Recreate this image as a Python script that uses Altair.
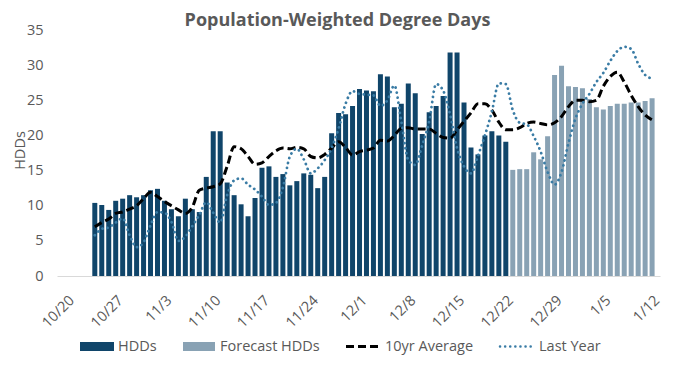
import altair as alt
import pandas as pd

# ---------------- data ----------------
start_date = "2023-10-24"

hdds = [10.4, 10.1, 9.4, 10.7, 11.0, 11.5, 11.2, 11.5, 12.2, 12.4,
        10.7, 9.5, 8.5, 11.0, 9.5, 9.1, 14.1, 20.6, 20.6, 13.3,
        11.5, 10.2, 8.5, 11.1, 15.4, 15.6, 14.1, 14.5, 12.9, 13.5,
        14.6, 14.4, 12.5, 14.1, 20.3, 23.2, 23.0, 24.2, 26.6, 26.4,
        26.3, 28.7, 28.4, 24.0, 24.5, 27.4, 26.0, 20.2, 23.3, 24.2,
        25.6, 31.8, 31.8, 24.7, 18.3, 17.3, 20.0, 20.6, 20.0, 19.1]

forecast_hdds = [15.1, 15.2, 15.2, 17.6, 16.6, 19.9, 28.6, 29.9, 27.0, 26.9,
                 26.7, 25.2, 24.0, 23.7, 24.2, 24.5, 24.5, 24.7, 24.7, 24.9,
                 25.3]

ten_year_avg = [7.0, 7.6, 8.1, 8.9, 9.1, 9.5, 10.0, 11.0, 11.9, 11.3,
                10.6, 10.0, 9.4, 8.9, 9.8, 12.2, 12.5, 12.7, 13.1, 15.6,
                18.4, 18.1, 17.0, 15.9, 16.1, 17.0, 17.8, 18.2, 18.1, 18.3,
                18.1, 17.0, 16.8, 17.3, 18.2, 19.1, 18.3, 17.2, 17.7, 17.9,
                18.2, 19.3, 19.2, 20.0, 21.0, 21.1, 20.9, 20.9, 20.9, 20.3,
                19.7, 19.6, 20.8, 22.0, 23.2, 24.5, 24.5, 23.6, 21.9, 20.8,
                20.8, 21.1, 21.7, 21.9, 21.7, 21.5, 21.8, 22.7, 24.1, 25.0,
                25.0, 24.8, 25.0, 27.0, 28.4, 29.0, 27.6, 25.7, 24.1, 22.9,
                22.2]

last_year = [5.8, 6.7, 6.9, 7.6, 8.2, 5.8, 4.1, 4.8, 7.2, 9.1,
             9.0, 7.7, 5.0, 5.6, 7.1, 8.7, 10.5, 9.0, 7.6, 11.5,
             13.6, 13.9, 13.0, 12.3, 11.3, 10.1, 10.4, 12.6, 17.0, 18.1,
             16.6, 14.6, 15.3, 16.5, 18.2, 21.0, 24.5, 26.3, 25.9, 25.8,
             25.7, 24.2, 25.0, 27.1, 22.0, 16.5, 15.8, 18.6, 22.0, 27.3,
             26.4, 23.0, 18.2, 15.6, 14.6, 17.1, 20.0, 23.4, 27.4, 27.3,
             23.6, 21.8, 21.6, 19.9, 17.7, 14.8, 13.0, 14.8, 18.9, 22.4,
             24.5, 25.9, 27.6, 28.9, 30.6, 32.0, 32.6, 32.3, 30.2, 28.6,
             28.1]

tick_dates = [(2023, 10, 20), (2023, 10, 27), (2023, 11, 3), (2023, 11, 10),
              (2023, 11, 17), (2023, 11, 24), (2023, 12, 1), (2023, 12, 8),
              (2023, 12, 15), (2023, 12, 22), (2023, 12, 29), (2024, 1, 5),
              (2024, 1, 12)]
y_ticks = [0, 5, 10, 15, 20, 25, 30, 35]

series_names = ["HDDs", "Forecast HDDs", "10yr Average", "Last Year"]
bar_colors = ["#10456A", "#89A2B4"]
ly_color = "#3A7CA5"
text_color = "#595959"
FONT = "Open Sans"

# ---------------- tables ----------------
n = len(hdds) + len(forecast_hdds)
dates = pd.date_range(start_date, periods=n, freq="D")
date_str = [d.strftime("%Y-%m-%dT00:00:00") for d in dates]

bars_df = pd.DataFrame({
    "date": date_str,
    "value": hdds + forecast_hdds,
    "series": [series_names[0]] * len(hdds) + [series_names[1]] * len(forecast_hdds),
})
ten_df = pd.DataFrame({"date": date_str, "value": ten_year_avg})
ly_df = pd.DataFrame({"date": date_str, "value": last_year})

# ---------------- encodings ----------------
x_enc = alt.X(
    "date:T",
    scale=alt.Scale(domain=[alt.DateTime(year=2023, month=10, date=19, hours=7),
                            alt.DateTime(year=2024, month=1, date=12, hours=10)]),
    axis=alt.Axis(
        values=[alt.DateTime(year=y, month=m, date=d) for (y, m, d) in tick_dates],
        format="%-m/%-d", labelAngle=-45, labelAlign="right", labelBaseline="top",
        labelPadding=17, ticks=False, grid=False, title=None,
        domainColor="#d9d9d9", domainWidth=1.2,
        labelColor=text_color, labelFontSize=14.5, labelFont=FONT,
        labelOverlap=False, labelFlush=False, labelBound=False,
    ),
)
y_enc = alt.Y(
    "value:Q",
    scale=alt.Scale(domain=[0, 35], nice=False, zero=True),
    axis=alt.Axis(
        values=y_ticks, title="HDDs", grid=False, domain=False, ticks=False,
        labelPadding=14, labelColor=text_color, labelFontSize=14.5, labelFont=FONT,
        titleColor=text_color, titleFontSize=14.5, titleFont=FONT,
        titleFontWeight="normal", titleX=-37, titleY=120, titleBaseline="middle",
        titleAngle=-90,
    ),
)

bars = alt.Chart(bars_df).mark_bar(size=5).encode(
    x=x_enc, y=y_enc,
    color=alt.Color("series:N",
                    scale=alt.Scale(domain=series_names[:2], range=bar_colors),
                    legend=None),
)
ten_line = alt.Chart(ten_df).mark_line(
    color="black", strokeWidth=3, strokeDash=[8, 4], interpolate="monotone"
).encode(x=x_enc, y=y_enc)
ly_line = alt.Chart(ly_df).mark_line(
    color=ly_color, strokeWidth=2.75, strokeDash=[0.1, 5], strokeCap="round",
    interpolate="monotone"
).encode(x=x_enc, y=y_enc)

# ---------------- manual legend ----------------
one = pd.DataFrame({"k": [0]})
LY = 316.5
legend_layers = [
    alt.Chart(one).mark_rect(color=bar_colors[0]).encode(
        x=alt.value(23), x2=alt.value(57), y=alt.value(LY - 4.5), y2=alt.value(LY + 4.5)),
    alt.Chart(one).mark_rect(color=bar_colors[1]).encode(
        x=alt.value(126), x2=alt.value(158), y=alt.value(LY - 4.5), y2=alt.value(LY + 4.5)),
    alt.Chart(one).mark_rule(color="black", strokeWidth=3, strokeDash=[8, 4]).encode(
        x=alt.value(289), x2=alt.value(321), y=alt.value(LY)),
    alt.Chart(one).mark_rule(color=ly_color, strokeWidth=2.5, strokeDash=[0.1, 5],
                             strokeCap="round").encode(
        x=alt.value(443), x2=alt.value(475), y=alt.value(LY)),
]
for name, xpos in zip(series_names, [61, 163, 328, 482]):
    legend_layers.append(
        alt.Chart(one).mark_text(align="left", baseline="middle", fontSize=14.5,
                                 font=FONT, color=text_color).encode(
            x=alt.value(xpos), y=alt.value(LY), text=alt.value(name)))

chart = alt.layer(bars, ten_line, ly_line, *legend_layers).properties(
    width=603, height=246,
    title=alt.TitleParams("Population-Weighted Degree Days", font=FONT, fontSize=18,
                          fontWeight="bold", color=text_color, anchor="middle",
                          dx=-21, dy=8, offset=0),
    autosize=alt.AutoSizeParams(type="none"),
    padding={"left": 49, "top": 22, "right": 6, "bottom": 86},
).configure_view(stroke=None)

chart.save("out.html", embed_options={"renderer": "svg", "actions": False})
